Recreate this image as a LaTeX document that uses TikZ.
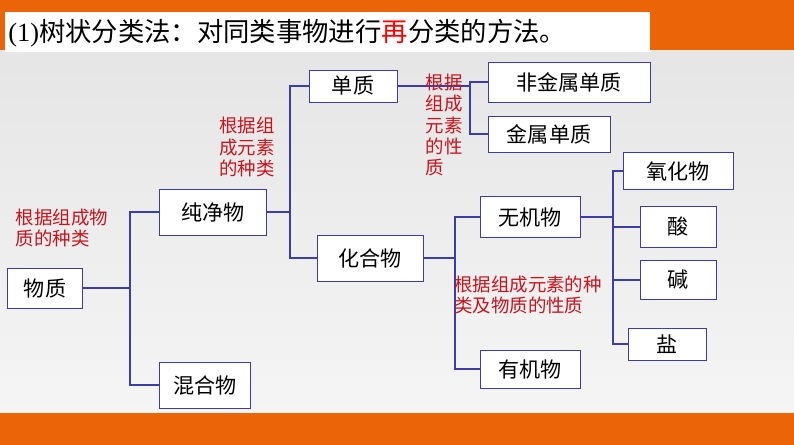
\documentclass[tikz,border=0pt]{standalone}
\usepackage{fontspec}
\setmainfont{Liberation Serif}
\newfontfamily\cjk{Noto Sans CJK SC}
\usetikzlibrary{positioning,calc}
\definecolor{bandorange}{RGB}{236,100,8}
\definecolor{boxblue}{RGB}{60,60,170}
\definecolor{notered}{RGB}{200,20,30}
\tikzset{
  box/.style={draw=boxblue, fill=white, inner sep=0pt, font=\cjk\fontsize{12}{14}\selectfont},
  note/.style={text=notered, align=left, font=\cjk\fontsize{10.5}{12}\selectfont},
  link/.style={draw=boxblue, line width=0.6pt}
}
\begin{document}
\begin{tikzpicture}[x=0.02cm, y=-0.02cm]
    % background
    \useasboundingbox (0,0) rectangle (794,445);
    \shade[top color=gray!20, bottom color=gray!8] (0,50) rectangle (794,413);
    \fill[bandorange] (0,0) rectangle (794,50);
    \fill[bandorange] (0,413) rectangle (794,445);
    \fill[white] (5,12) rectangle (650,52);
    \node[anchor=west, font=\fontsize{15}{17}\selectfont, inner sep=0pt] (title) at (8,33)
      {(1){\cjk 树状分类法：对同类事物进行\textcolor{red}{再}分类的方法。}};

    % boxes
    \node[box, minimum width=1.5cm, minimum height=0.8cm] (matter) at (45,288) {物质};
    \node[box, minimum width=2.14cm, minimum height=0.92cm] (pure) at (213,212) {纯净物};
    \node[box, minimum width=1.82cm, minimum height=0.92cm] (mix) at (205,385) {混合物};
    \node[box, minimum width=1.76cm, minimum height=0.64cm] (elem) at (353,86) {单质};
    \node[box, minimum width=2.12cm, minimum height=0.92cm] (comp) at (370,258) {化合物};
    \node[box, minimum width=3.24cm, minimum height=0.8cm] (nonmetal) at (569,82) {非金属单质};
    \node[box, minimum width=2.44cm, minimum height=0.72cm] (metal) at (549,134) {金属单质};
    \node[box, minimum width=2cm, minimum height=0.82cm] (inorg) at (530,217) {无机物};
    \node[box, minimum width=2cm, minimum height=0.76cm] (org) at (530,369) {有机物};
    \node[box, minimum width=2.2cm, minimum height=0.74cm] (oxide) at (678,171) {氧化物};
    \node[box, minimum width=1.52cm, minimum height=0.82cm] (acid) at (678,227) {酸};
    \node[box, minimum width=1.52cm, minimum height=0.78cm] (base) at (678,280) {碱};
    \node[box, minimum width=1.56cm, minimum height=0.64cm] (salt) at (667,344) {盐};

    % brackets
    \draw[link] (matter.east) -- (130,288);
    \draw[link] (pure.west) -| (130,288) |- (mix.west);
    \draw[link] (pure.east) -- (290,212);
    \draw[link] (elem.west) -| (290,212) |- (comp.west);
    \draw[link] (elem.east) -- (470,86);
    \draw[link] (nonmetal.west) -| (470,86) |- (metal.west);
    \draw[link] (comp.east) -- (455,258);
    \draw[link] (inorg.west) -| (455,258) |- (org.west);
    \draw[link] (inorg.east) -- (613,217);
    \draw[link] (oxide.west) -| (613,217) |- (salt.west);
    \draw[link] (acid.west) -- (613,227);
    \draw[link] (base.west) -- (613,280);

    % notes
    \node[note] (n1) at (62,228) {根据组成物\\质的种类};
    \node[note] (n2) at (247,147) {根据组\\成元素\\的种类};
    \node[note] (n3) at (444,125) {根据\\组成\\元素\\的性\\质};
    \node[note] (n4) at (528,295) {根据组成元素的种\\类及物质的性质};
\end{tikzpicture}
\end{document}
